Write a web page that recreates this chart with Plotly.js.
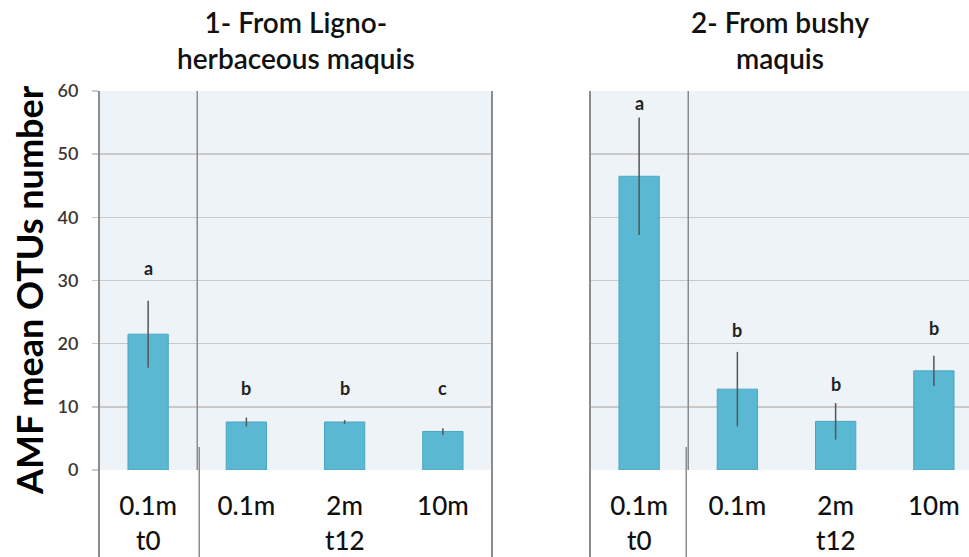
<!DOCTYPE html>
<html><head><meta charset="utf-8">
<script src="https://cdn.plot.ly/plotly-3.0.1.min.js"></script>
<style>html,body{margin:0;padding:0;background:#fff}#chart{width:969px;height:557px}</style>
</head><body><div id="chart"></div>
<script>
// ---- data ----
const depthLabels = ['0.1m', '0.1m', '2m', '10m'];
const timeGroups = ['t0', 't12'];
const timeGroupOf = [0, 1, 1, 1];
const panelTitles = [['1- From Ligno-', 'herbaceous maquis'], ['2- From bushy', 'maquis']];
const ligMeans = [21.5, 7.6, 7.6, 6.1];
const ligErr = [5.3, 0.7, 0.3, 0.5];
const ligLetters = ['a', 'b', 'b', 'c'];
const ligLetterY = [32, 13, 13, 13];
const bushMeans = [46.5, 12.8, 7.7, 15.7];
const bushErr = [9.3, 5.9, 2.9, 2.4];
const bushLetters = ['a', 'b', 'b', 'b'];
const bushLetterY = [58.1, 22.1, 13.6, 22.5];
const yTicks = [0, 10, 20, 30, 40, 50, 60];
const yTitle = 'AMF mean OTUs number';

// ---- layout geometry ----
const W = 969, H = 557, ml = 99, mt = 91, mb = 87;
const plotW = W - ml, plotH = H - mt - mb;
const leftW = 393, gapW = 98;
const catPx = leftW / depthLabels.length;
const leftDom = [0, leftW / plotW];
const rightDom = [(leftW + gapW) / plotW, 1];
const rightEnd = -0.5 + (plotW - leftW - gapW) / catPx;
const bottomY = -mb / plotH;
const FONT = 'Lato, "Open Sans", sans-serif';
const borderCol = '#8c8c8c', gridCol = '#c9c9c9';
const xs = depthLabels.map((_, i) => i);

function barTrace(means, errs, xa, ya) {
  return {
    type: 'bar', x: xs, y: means, xaxis: xa, yaxis: ya, width: 0.41,
    marker: {color: '#5bb8d2', line: {color: '#4aa7c1', width: 1}},
    error_y: {type: 'data', array: errs, visible: true, color: '#555', thickness: 1.5, width: 0},
    hoverinfo: 'y', showlegend: false
  };
}

const data = [barTrace(ligMeans, ligErr, 'x', 'y'), barTrace(bushMeans, bushErr, 'x2', 'y2')];

const shapes = [];
const vline = (x, y0, y1, xref, yref, w) => shapes.push({type: 'line', xref, yref, x0: x, x1: x, y0, y1, line: {color: borderCol, width: w}, layer: 'above'});
// panel borders that run down through the label area
vline(leftDom[0], bottomY, 1, 'paper', 'paper', 2);
vline(leftDom[1], bottomY, 1, 'paper', 'paper', 2);
vline(rightDom[0], bottomY, 1, 'paper', 'paper', 2);
// t0 / t12 dividers
vline(0.5, 0, 60, 'x', 'y', 1.5);
vline(0.5, 0, 60, 'x2', 'y2', 1.5);
vline(leftDom[0] + (catPx + 2) / plotW, 23 / plotH, bottomY, 'paper', 'paper', 1.5);
vline(rightDom[0] + (catPx - 2) / plotW, 23 / plotH, bottomY, 'paper', 'paper', 1.5);

const annotations = [];
const letterFont = {family: FONT, size: 18, color: '#222', weight: 700};
ligLetters.forEach((t, i) => annotations.push({xref: 'x', yref: 'y', x: i, y: ligLetterY[i], text: t, showarrow: false, font: letterFont}));
bushLetters.forEach((t, i) => annotations.push({xref: 'x2', yref: 'y2', x: i, y: bushLetterY[i], text: t, showarrow: false, font: letterFont}));
// time-group labels
['x', 'x2'].forEach(xa => {
  timeGroups.forEach((g, gi) => {
    const idx = xs.filter(i => timeGroupOf[i] === gi);
    const cx = idx.reduce((a, b) => a + b, 0) / idx.length;
    annotations.push({xref: xa, yref: 'paper', x: cx, y: -70 / plotH, yanchor: 'middle', text: g, showarrow: false,
      font: {family: FONT, size: 26, color: '#111', weight: 500}});
  });
});
// panel titles (two lines each)
panelTitles.forEach((lines, p) => {
  const xr = p === 0 ? 'x domain' : 'x2 domain';
  annotations.push({xref: xr, yref: 'paper', x: 0.5, y: (470 - 40) / plotH, yanchor: 'middle',
    text: lines.join('<br>'), showarrow: false, font: {family: FONT, size: 28, color: '#111', weight: 600}});
});
// y-axis title
annotations.push({xref: 'paper', yref: 'paper', x: -70 / plotW, y: 180 / plotH, xanchor: 'center', yanchor: 'middle',
  text: yTitle, textangle: -90, showarrow: false, font: {family: FONT, size: 36, color: '#000', weight: 700}});

const xCommon = {range: [-0.5, 3.5], tickvals: xs, ticktext: depthLabels, ticks: '', showgrid: false, zeroline: false,
  showline: false, fixedrange: true, ticklabelstandoff: 18, tickfont: {family: FONT, size: 26, color: '#111', weight: 500}};
const yCommon = {range: [0, 60], tickvals: yTicks, showgrid: true, gridcolor: gridCol, gridwidth: 1.5, zeroline: false,
  showline: false, fixedrange: true, domain: [0, 1]};

const layout = {
  width: W, height: H, margin: {l: ml, r: 0, t: mt, b: mb},
  paper_bgcolor: '#ffffff', plot_bgcolor: '#eef3f8',
  showlegend: false, bargap: 0,
  xaxis: Object.assign({}, xCommon, {domain: leftDom, anchor: 'y'}),
  xaxis2: Object.assign({}, xCommon, {domain: rightDom, anchor: 'y2', range: [-0.5, rightEnd]}),
  yaxis: Object.assign({}, yCommon, {anchor: 'x', ticks: 'outside', ticklen: 6, tickwidth: 1.5, tickcolor: gridCol,
    ticklabelstandoff: 10, tickfont: {family: FONT, size: 18, color: '#3b3631', weight: 600}}),
  yaxis2: Object.assign({}, yCommon, {anchor: 'x2', ticks: '', showticklabels: false}),
  shapes, annotations
};

Plotly.newPlot('chart', data, layout, {displayModeBar: false, staticPlot: true});
</script>
</body></html>
